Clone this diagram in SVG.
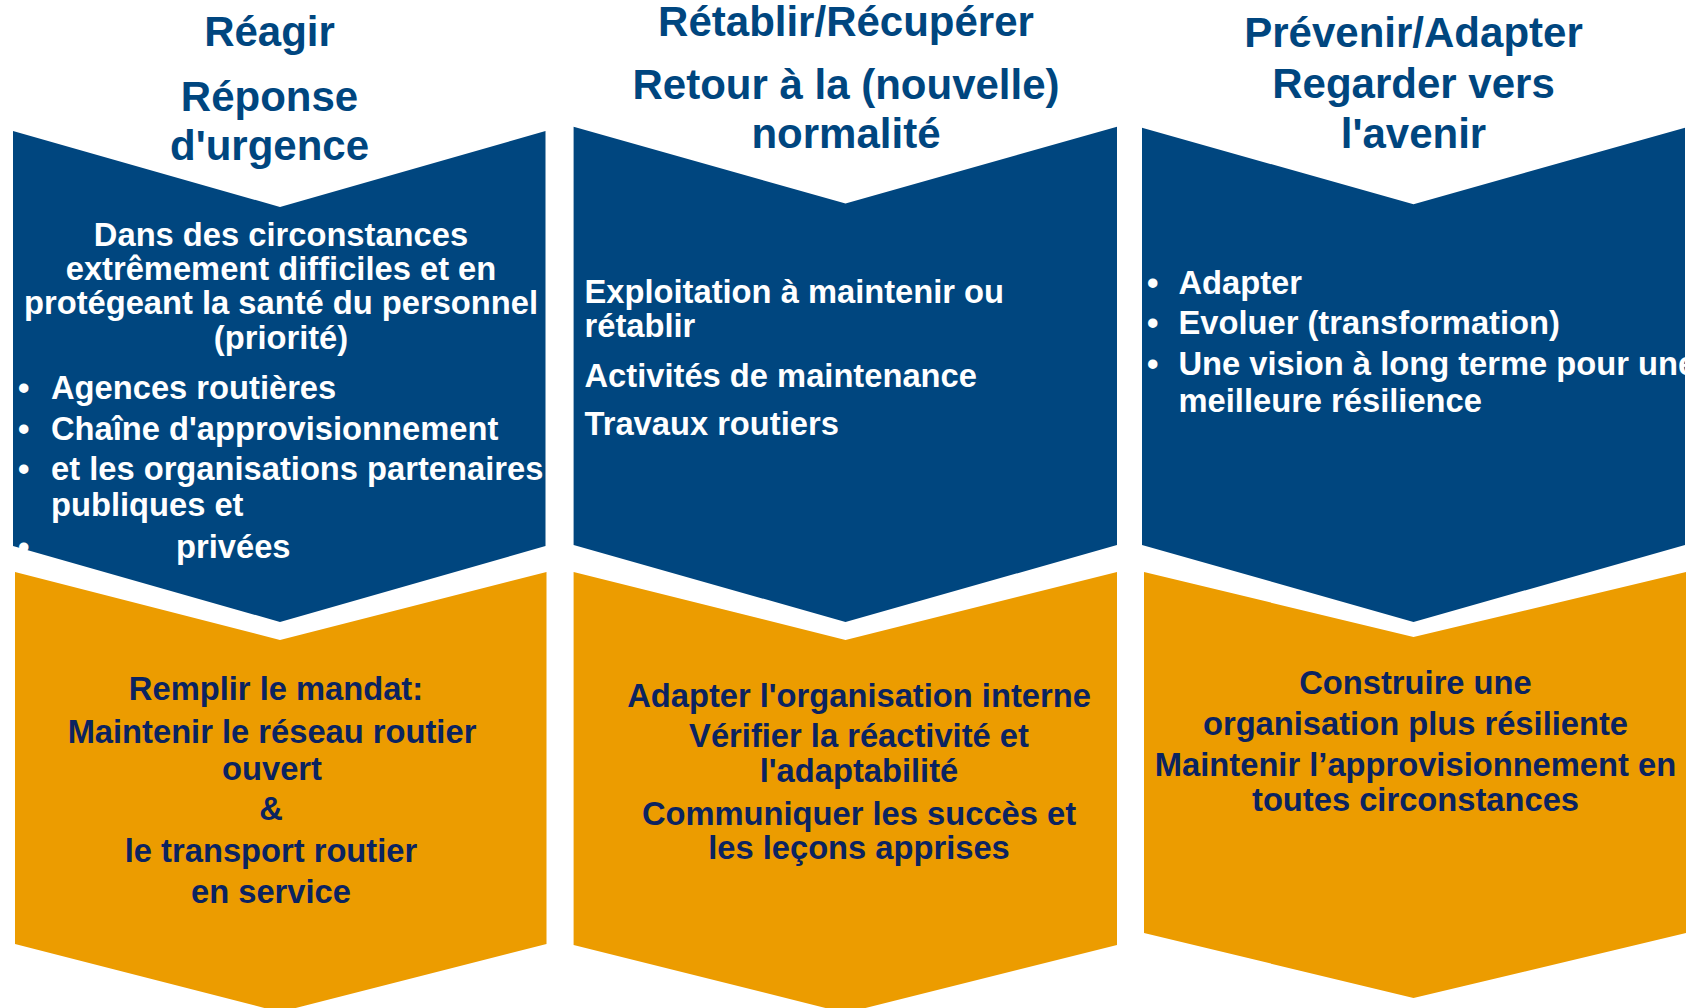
<svg xmlns="http://www.w3.org/2000/svg" width="1697" height="1008" viewBox="0 0 1697 1008">
<style>
.blue{fill:#00467F}
.orange{fill:#EC9C00}
text{font-family:"Liberation Sans",Arial,sans-serif;font-weight:bold}
.title{fill:#00467F;font-size:42px;text-anchor:middle}
.wt{fill:#FFFFFF;font-size:32.7px}
.nv{fill:#0B2360;font-size:32.7px;text-anchor:middle}
.c{text-anchor:middle}
</style>
<rect width="1697" height="1008" fill="#FFFFFF"/>
<g id="col1">
  <g id="title1">
    <text class="title" x="269.5" y="46">Réagir</text>
    <text class="title" x="269.5" y="111">Réponse</text>
    <text class="title" x="269.5" y="160">d'urgence</text>
  </g>
  <g id="blue1">
    <path class="blue" d="M13,131 L280,207 L545.5,131 L545.5,546 L280,622 L13,546 Z"/>
    <text class="wt c" x="281" y="246">Dans des circonstances</text>
    <text class="wt c" x="281" y="280">extrêmement difficiles et en</text>
    <text class="wt c" x="281" y="314">protégeant la santé du personnel</text>
    <text class="wt c" x="281" y="349">(priorité)</text>
    <text class="wt" x="18" y="399">•</text>
    <text class="wt" x="51" y="399">Agences routières</text>
    <text class="wt" x="18" y="440">•</text>
    <text class="wt" x="51" y="440">Chaîne d'approvisionnement</text>
    <text class="wt" x="18" y="480">•</text>
    <text class="wt" x="51" y="480">et les organisations partenaires</text>
    <text class="wt" x="51" y="516">publiques et</text>
    <text class="wt" x="18" y="558">•</text>
    <text class="wt" x="176" y="558">privées</text>
  </g>
  <g id="orange1">
    <path class="orange" d="M15,572 L280,640 L546.5,572 L546.5,944 L280,1012 L15,944 Z"/>
    <text class="nv" x="276" y="700">Remplir le mandat:</text>
    <text class="nv" x="272" y="743">Maintenir le réseau routier</text>
    <text class="nv" x="272" y="780">ouvert</text>
    <text class="nv" x="271" y="820">&amp;</text>
    <text class="nv" x="271" y="862">le transport routier</text>
    <text class="nv" x="271" y="903">en service</text>
  </g>
</g>
<g id="col2">
  <g id="title2">
    <text class="title" x="846" y="36">Rétablir/Récupérer</text>
    <text class="title" x="846" y="99">Retour à la (nouvelle)</text>
    <text class="title" x="846" y="148">normalité</text>
  </g>
  <g id="blue2">
    <path class="blue" d="M573.6,126.7 L845.5,203.5 L1117,126.7 L1117,545 L845.5,622 L573.6,545 Z"/>
    <text class="wt" x="584.5" y="302.5">Exploitation à maintenir ou</text>
    <text class="wt" x="584.5" y="336.5">rétablir</text>
    <text class="wt" x="584.5" y="386.5">Activités de maintenance</text>
    <text class="wt" x="584.5" y="434.5">Travaux routiers</text>
  </g>
  <g id="orange2">
    <path class="orange" d="M573.6,572 L845.5,640 L1117,572 L1117,945 L845.5,1013 L573.6,945 Z"/>
    <text class="nv" x="859" y="706.5">Adapter l'organisation interne</text>
    <text class="nv" x="859" y="746.5">Vérifier la réactivité et</text>
    <text class="nv" x="859" y="781.5">l'adaptabilité</text>
    <text class="nv" x="859" y="824.5">Communiquer les succès et</text>
    <text class="nv" x="859" y="858.5">les leçons apprises</text>
  </g>
</g>
<g id="col3">
  <g id="title3">
    <text class="title" x="1413.5" y="47">Prévenir/Adapter</text>
    <text class="title" x="1413.5" y="98">Regarder vers</text>
    <text class="title" x="1413.5" y="148">l'avenir</text>
  </g>
  <g id="blue3">
    <path class="blue" d="M1142,127.7 L1413.5,204.3 L1685,127.7 L1685,545 L1413.5,622 L1142,545 Z"/>
    <text class="wt" x="1147" y="294">•</text>
    <text class="wt" x="1178.5" y="294">Adapter</text>
    <text class="wt" x="1147" y="334">•</text>
    <text class="wt" x="1178.5" y="334">Evoluer (transformation)</text>
    <text class="wt" x="1147" y="375">•</text>
    <text class="wt" x="1178.5" y="375">Une vision à long terme pour une</text>
    <text class="wt" x="1178.5" y="412">meilleure résilience</text>
  </g>
  <g id="orange3">
    <path class="orange" d="M1144,572 L1413.5,637 L1686,572 L1686,933 L1413.5,998 L1144,933 Z"/>
    <text class="nv" x="1415.5" y="694">Construire une</text>
    <text class="nv" x="1415.5" y="735">organisation plus résiliente</text>
    <text class="nv" x="1415.5" y="776">Maintenir l’approvisionnement en</text>
    <text class="nv" x="1415.5" y="811">toutes circonstances</text>
  </g>
</g>
<g id="connectors"></g>
</svg>
